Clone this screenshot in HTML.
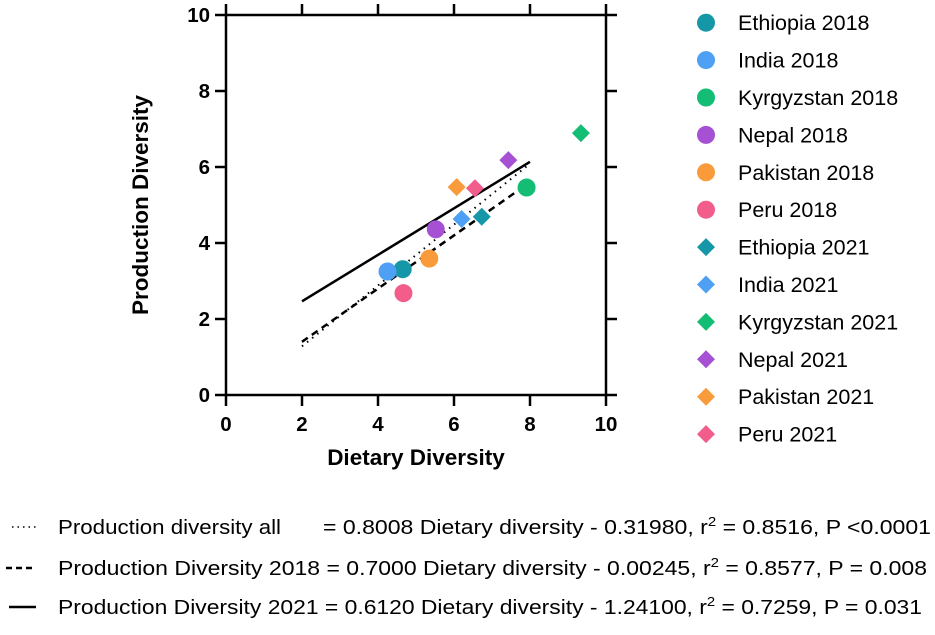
<!DOCTYPE html>
<html><head><meta charset="utf-8"><style>
html,body{margin:0;padding:0;background:#fff;}
svg text{font-family:"Liberation Sans",Arial,sans-serif;}
</style></head><body>
<svg id="chart" width="935" height="630" viewBox="0 0 935 630" xmlns="http://www.w3.org/2000/svg">
<g id="frame"></g>
<g id="lines"></g>
<g id="points"></g>
<g id="legend"></g>
<text x="416" y="465" text-anchor="middle" font-size="22.5" font-weight="bold">Dietary Diversity</text>
<text x="0" y="0" transform="translate(148,205) rotate(-90)" text-anchor="middle" font-size="22.5" font-weight="bold">Production Diversity</text>
<g font-size="20">
<line x1="12" y1="527" x2="36" y2="527" stroke="#000" stroke-width="1.5" stroke-dasharray="1.5,4"/>
<text x="58" y="534" textLength="223" lengthAdjust="spacingAndGlyphs">Production diversity all</text>
<text x="323" y="534" textLength="608" lengthAdjust="spacingAndGlyphs">= 0.8008 Dietary diversity - 0.31980, r<tspan dy="-8" font-size="13">2</tspan><tspan dy="8"> = 0.8516, P &lt;0.0001</tspan></text>
<line x1="6" y1="568" x2="33" y2="568" stroke="#000" stroke-width="2.5" stroke-dasharray="6,4"/>
<text x="58" y="575" textLength="869" lengthAdjust="spacingAndGlyphs">Production Diversity 2018 = 0.7000 Dietary diversity - 0.00245, r<tspan dy="-8" font-size="13">2</tspan><tspan dy="8"> = 0.8577, P = 0.008</tspan></text>
<line x1="9" y1="607" x2="36" y2="607" stroke="#000" stroke-width="2.5"/>
<text x="58" y="614" textLength="864" lengthAdjust="spacingAndGlyphs">Production Diversity 2021 = 0.6120 Dietary diversity - 1.24100, r<tspan dy="-8" font-size="13">2</tspan><tspan dy="8"> = 0.7259, P = 0.031</tspan></text>
</g>
</svg>
<script>
const countries=["Ethiopia","India","Kyrgyzstan","Nepal","Pakistan","Peru"];
const colors=["#1597a8","#4ea0f5","#13bd73","#a650d3","#f99b3a","#f25d8c"];
const x2018=[4.65,4.25,7.91,5.52,5.35,4.67];
const y2018=[3.31,3.25,5.46,4.36,3.59,2.68];
const x2021=[6.73,6.20,9.34,7.43,6.07,6.55];
const y2021=[4.69,4.63,6.89,6.18,5.47,5.44];
const xTicks=[0,2,4,6,8,10];
const yTicks=[0,2,4,6,8,10];
const lineNames=["fit-all","fit-2018","fit-2021"];
const lineX1=[2,2,2];
const lineX2=[8,7.9,8];
const lineSlope=[0.8008,0.70,0.612];
const lineIntercept=[-0.32,0.0,1.24];
const NS="http://www.w3.org/2000/svg";
const X=v=>226+v*38, Y=v=>395-v*38;
function mk(tag,attrs,parent){const e=document.createElementNS(NS,tag);for(const k in attrs)e.setAttribute(k,attrs[k]);parent.appendChild(e);return e;}
const fr=document.getElementById('frame');
let e=mk('rect',{x:X(0),y:Y(10),width:X(10)-X(0),height:Y(0)-Y(10),fill:'none',stroke:'#000','stroke-width':2.5},fr);


xTicks.forEach(t=>{
 let a=mk('line',{x1:X(t),x2:X(t),y1:Y(0),y2:Y(0)+11,stroke:'#000','stroke-width':2.5},fr);
 
 
 let b=mk('line',{x1:X(t),x2:X(t),y1:Y(10),y2:Y(10)-11,stroke:'#000','stroke-width':2.5},fr);
 
 
 let l=mk('text',{x:X(t),y:431,'text-anchor':'middle','font-size':20.5,'font-weight':'bold'},fr);
 l.textContent=t;
 
 
});
yTicks.forEach(t=>{
 let a=mk('line',{x1:X(0)-11,x2:X(0),y1:Y(t),y2:Y(t),stroke:'#000','stroke-width':2.5},fr);
 
 
 let b=mk('line',{x1:X(10),x2:X(10)+11,y1:Y(t),y2:Y(t),stroke:'#000','stroke-width':2.5},fr);
 
 
 let l=mk('text',{x:210,y:Y(t)+7,'text-anchor':'end','font-size':20.5,'font-weight':'bold'},fr);
 l.textContent=t;
 
 
});
const dash=["1.5,5","7,5",""];
const lg=document.getElementById('lines');
lineNames.forEach((n,i)=>{
 let l=mk('line',{x1:X(lineX1[i]),y1:Y(lineSlope[i]*lineX1[i]+lineIntercept[i]),x2:X(lineX2[i]),y2:Y(lineSlope[i]*lineX2[i]+lineIntercept[i]),stroke:'#000','stroke-width':i==0?2:2.5,'stroke-dasharray':dash[i]},lg);
 
 
});
const pg=document.getElementById('points');
function diamond(cx,cy,r,fill,parent){return mk('polygon',{points:`${cx},${cy-r} ${cx+r},${cy} ${cx},${cy+r} ${cx-r},${cy}`,fill:fill},parent);}
countries.forEach((c,i)=>{
 let p=mk('circle',{cx:X(x2018[i]),cy:Y(y2018[i]),r:9,fill:colors[i]},pg);
 
 
});
countries.forEach((c,i)=>{
 let p=diamond(X(x2021[i]),Y(y2021[i]),9,colors[i],pg);
 
 
});
const leg=document.getElementById('legend');
for(let k=0;k<12;k++){
 const i=k%6, yr=k<6?2018:2021, cy=22.7+k*37.4;
 let g=mk('g',{},leg);
 
 
 if(k<6) mk('circle',{cx:706,cy:cy,r:9,fill:colors[i]},g); else diamond(706,cy,9,colors[i],g);
 let t=mk('text',{x:738,y:cy+7.5,'font-size':21.5},g);
 t.textContent=countries[i]+' '+yr;
}
</script>
</body></html>
